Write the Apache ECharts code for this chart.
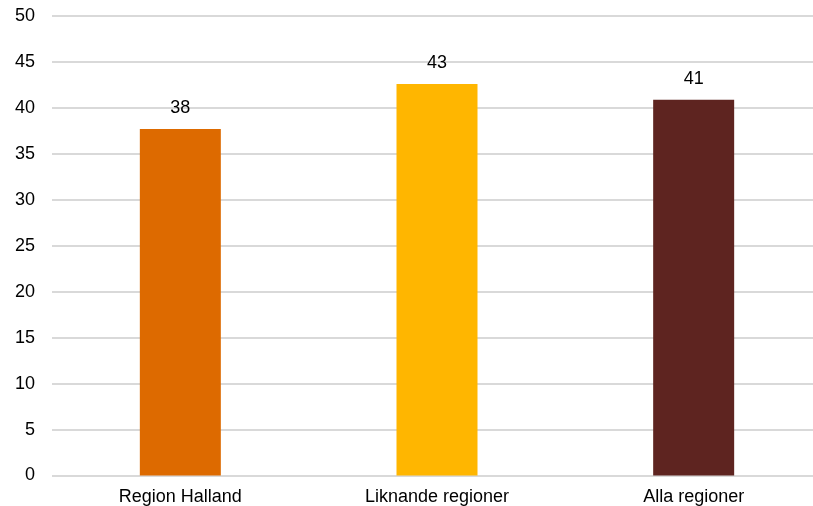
<!DOCTYPE html>
<html><head><meta charset="utf-8">
<script src="https://cdn.jsdelivr.net/npm/echarts@6/dist/echarts.min.js"></script>
<style>html,body{margin:0;padding:0;background:#fff;overflow:hidden}#c{width:813px;height:506px}</style>
</head><body><div id="c"></div>
<script>
const categories = ["Region Halland", "Liknande regioner", "Alla regioner"];
const values = [37.7, 42.6, 40.9];
const colors = ["#DD6A00", "#FFB600", "#5E2420"];
const yTicks = [0, 5, 10, 15, 20, 25, 30, 35, 40, 45, 50];

const chart = echarts.init(document.getElementById('c'), null, {renderer: 'canvas'});
chart.setOption({
  animation: false,
  grid: {left: 52, width: 770, top: 16, bottom: 30.5, containLabel: false, outerBoundsMode: 'none'},
  xAxis: {
    type: 'category', data: categories,
    axisLine: {show: false}, axisTick: {show: false},
    axisLabel: {color: '#000', fontFamily: 'Liberation Sans', fontSize: 18, margin: 13, interval: 0}
  },
  yAxis: {
    type: 'value', min: yTicks[0], max: yTicks[yTicks.length - 1], interval: 5,
    axisLine: {show: false}, axisTick: {show: false},
    axisLabel: {color: '#000', fontFamily: 'Liberation Sans', fontSize: 18, margin: 17},
    splitLine: {lineStyle: {color: '#D9D9D9', width: 2}}
  },
  series: [{
    type: 'bar', barWidth: 81,
    data: values.map((v, i) => ({value: v, itemStyle: {color: colors[i]}})),
    label: {show: true, position: 'top', distance: 12, color: '#000', fontFamily: 'Liberation Sans', fontSize: 18,
      formatter: p => Math.round(p.value)}
  }]
});
</script></body></html>
